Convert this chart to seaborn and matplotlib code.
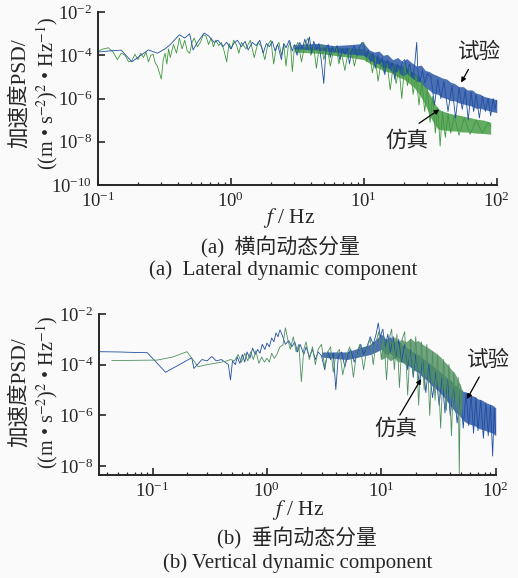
import numpy as np
import matplotlib
matplotlib.use("Agg")
import matplotlib.pyplot as plt
import seaborn as sns

# ---- data (log10 of PSD) ----
# (a) lateral - test (blue)
fa_test = [0.10, 0.12, 0.15, 0.18, 0.21, 0.24, 0.28, 0.32, 0.35, 0.41, 0.45, 0.49, 0.52, 0.56, 0.63,
           0.68, 0.75, 0.80, 0.87, 0.93, 1.00, 1.05, 1.12, 1.20, 1.28, 1.35, 1.45, 1.55, 1.65, 1.75,
           1.85, 1.95, 2.05, 2.15, 2.25, 2.40, 2.50, 2.60, 2.75, 2.90, 3.00, 3.15, 3.30, 3.45, 3.60,
           3.75, 3.90, 4.05, 4.20, 4.40, 4.60, 4.80, 5.00, 5.20, 5.40, 5.60, 5.80, 6.00, 6.30, 6.60,
           6.90, 7.20, 7.50, 7.80, 8.10, 8.50, 8.90, 9.30, 9.70, 10.0, 10.4, 10.8, 11.2, 11.7, 12.2,
           12.7, 13.2, 13.8, 14.4, 15.0, 15.7, 16.4, 17.1, 17.9, 18.7, 19.5, 20.3, 21.2, 22.1, 23.0,
           24.0, 25.0, 25.5, 26.5, 27.6, 28.8, 30.0, 32, 34, 36, 38, 40, 43, 46, 49, 52, 55, 58, 61,
           64, 67, 70, 74, 78, 82, 86, 90, 94, 97, 100]
pa_test = [-3.85, -3.80, -3.76, -4.30, -4.00, -3.75, -3.90, -3.70, -3.50, -3.05, -3.20, -3.00, -3.75,
           -3.40, -2.97, -3.10, -3.40, -3.30, -3.60, -3.40, -3.70, -3.45, -3.30, -3.60, -3.35, -3.75,
           -3.40, -3.55, -3.30, -3.90, -3.45, -3.60, -3.35, -3.80, -3.50, -4.20, -3.45, -3.65, -3.30,
           -3.80, -3.50, -4.00, -3.40, -3.70, -3.25, -3.60, -3.15, -3.90, -3.35, -3.70, -3.45, -4.30,
           -5.30, -3.70, -3.50, -4.10, -3.60, -3.85, -3.55, -4.20, -3.70, -3.95, -3.65, -4.40, -3.80,
           -3.55, -4.00, -3.60, -3.40, -3.50, -4.10, -3.75, -4.30, -3.90, -4.60, -4.00, -4.40, -4.10,
           -4.90, -4.20, -4.60, -4.35, -5.10, -4.40, -4.70, -4.30, -4.20, -4.80, -4.40, -5.00, -4.60,
           -3.40, -4.70, -5.20, -4.70, -5.30, -4.85, -5.00, -6.30, -5.10, -6.00, -5.20, -6.60, -5.40,
           -6.90, -5.50, -6.50, -5.60, -7.00, -5.70, -6.60, -5.80, -6.90, -5.90, -6.60, -6.00, -6.80,
           -6.00, -6.50, -6.10]
# (a) lateral - simulation (green)
fa_sim = [0.10, 0.11, 0.12, 0.13, 0.14, 0.15, 0.16, 0.17, 0.18, 0.19, 0.20, 0.21, 0.22, 0.23, 0.24,
          0.25, 0.26, 0.27, 0.28, 0.29, 0.30, 0.31, 0.32, 0.33, 0.34, 0.35, 0.37, 0.39, 0.41, 0.43,
          0.45, 0.47, 0.49, 0.51, 0.53, 0.56, 0.59, 0.62, 0.65, 0.68, 0.71, 0.74, 0.77, 0.81, 0.85,
          0.89, 0.93, 0.97, 1.01, 1.05, 1.10, 1.15, 1.20, 1.30, 1.40, 1.50, 1.60, 1.70, 1.80, 1.90,
          2.00, 2.10, 2.20, 2.30, 2.40, 2.50, 2.60, 2.70, 2.80, 2.90, 3.00, 3.20, 3.40, 3.60, 3.80,
          4.00, 4.20, 4.40, 4.60, 4.80, 5.00, 5.30, 5.60, 5.90, 6.20, 6.50, 6.80, 7.20, 7.60, 8.00,
          8.50, 9.00, 9.50, 10.0, 10.5, 11.0, 11.6, 12.2, 12.8, 13.5, 14.2, 15.0, 15.8, 16.6, 17.5,
          18.4, 19.3, 20.3, 21.3, 22.4, 23.5, 24.7, 26.0, 27.3, 28.7, 30.0, 31.5, 33.0, 34.5, 36.0,
          37.5, 39.0, 41, 43, 45, 48, 52, 57, 63, 70, 78, 86, 90]
pa_sim = [-3.80, -3.70, -3.65, -3.85, -4.20, -3.90, -4.00, -4.30, -4.25, -3.95, -4.20, -3.90, -4.10,
          -3.85, -4.30, -4.00, -3.95, -4.35, -4.50, -4.80, -5.10, -4.20, -3.90, -4.40, -3.70, -4.10,
          -3.50, -3.90, -3.20, -3.70, -3.30, -3.80, -3.90, -3.40, -3.20, -3.60, -3.40, -3.05, -3.10,
          -3.50, -3.20, -3.60, -3.30, -3.55, -3.40, -3.80, -4.30, -3.45, -3.70, -3.30, -3.50, -3.90,
          -3.40, -3.70, -3.30, -4.10, -3.40, -3.60, -4.20, -3.50, -3.30, -4.40, -3.60, -3.40, -4.00,
          -3.50, -4.50, -3.60, -3.40, -4.75, -3.70, -3.40, -4.30, -3.50, -3.20, -4.00, -3.60, -4.60,
          -3.70, -3.50, -4.20, -3.60, -4.50, -3.80, -3.60, -4.40, -3.90, -4.70, -3.90, -3.70, -4.50,
          -3.80, -3.50, -3.40, -4.30, -3.90, -4.80, -4.10, -5.20, -4.30, -4.80, -4.40, -5.60, -4.50,
          -5.30, -4.60, -6.00, -4.40, -5.40, -4.60, -5.80, -4.90, -6.30, -5.20, -6.60, -5.50, -7.10,
          -5.90, -7.60, -6.40, -8.20, -6.60, -7.80, -6.70, -7.60, -6.80, -7.70, -6.90, -7.65, -7.00,
          -7.60, -7.10, -7.30]
# dense parts of the (a) spectra: upper / lower edge of the band
fa_band_test = [3, 4.5, 6, 8, 10, 11, 12, 13, 14, 15, 16.5, 18, 19.5, 21, 23, 25, 27, 29, 31, 33,
                36, 39, 42, 45, 48, 52, 56, 60, 65, 70, 75, 80, 86, 92, 100]
hia_band_test = [-3.50, -3.45, -3.55, -3.50, -3.45, -3.75, -3.85, -3.80, -4.00, -3.95, -4.20, -4.10,
                 -4.30, -4.15, -4.35, -4.50, -4.45, -4.70, -4.75, -4.85, -4.95, -5.05, -5.10, -5.25,
                 -5.30, -5.45, -5.45, -5.60, -5.60, -5.75, -5.80, -5.90, -5.95, -6.00, -6.05]
loa_band_test = [-3.70, -3.75, -3.85, -3.95, -4.00, -4.20, -4.35, -4.40, -4.60, -4.55, -4.80, -4.75,
                 -4.95, -4.85, -5.05, -5.20, -5.25, -5.50, -5.60, -5.75, -5.80, -5.95, -6.00, -6.10,
                 -6.10, -6.20, -6.25, -6.30, -6.35, -6.45, -6.45, -6.50, -6.55, -6.60, -6.65]
fa_band_sim = [3, 4.5, 6, 8, 10, 12, 14, 16, 18, 20, 22, 24, 26, 28, 30, 32, 34, 36, 38, 40, 45,
               50, 55, 60, 70, 80, 90]
hia_band_sim = [-3.60, -3.60, -3.65, -3.65, -3.70, -4.00, -4.20, -4.30, -4.45, -4.50, -4.70, -4.80,
                -5.00, -5.30, -5.60, -5.90, -6.20, -6.45, -6.55, -6.60, -6.70, -6.75, -6.80, -6.85,
                -6.95, -7.00, -7.10]
loa_band_sim = [-3.85, -3.90, -4.00, -4.10, -4.20, -4.50, -4.70, -4.80, -5.00, -5.10, -5.30, -5.50,
                -5.80, -6.10, -6.50, -6.90, -7.20, -7.40, -7.45, -7.45, -7.50, -7.50, -7.55, -7.55,
                -7.60, -7.62, -7.65]

# (b) vertical - test (blue)
fb_test = [0.034, 0.05, 0.07, 0.09, 0.13, 0.22, 0.23, 0.27, 0.30, 0.33, 0.36, 0.40, 0.43, 0.46, 0.48,
           0.50, 0.53, 0.55, 0.58, 0.61, 0.64, 0.67, 0.71, 0.75, 0.79, 0.83, 0.87, 0.91, 0.96, 1.00,
           1.05, 1.10, 1.15, 1.20, 1.25, 1.30, 1.35, 1.40, 1.45, 1.55, 1.65, 1.75, 1.85, 1.95, 2.10,
           2.20, 2.35, 2.50, 2.65, 2.80, 3.00, 3.20, 3.40, 3.60, 3.80, 4.00, 4.20, 4.50, 4.80, 5.10,
           5.40, 5.80, 6.20, 6.60, 7.00, 7.50, 8.00, 8.50, 9.00, 9.40, 9.80, 10.3, 10.8, 11.4, 12.0,
           12.7, 13.4, 14.2, 15.0, 16, 17, 18, 19, 20, 21.5, 23, 24.5, 26, 28, 30, 32, 34, 36, 38, 40,
           43, 46, 49, 52, 55, 58, 61, 64, 67, 70, 74, 78, 82, 86, 90, 94, 97, 100]
pb_test = [-3.49, -3.50, -3.52, -3.53, -4.30, -3.73, -4.15, -3.80, -3.85, -3.68, -3.85, -3.80, -3.90,
           -4.00, -4.60, -3.85, -4.00, -3.70, -3.95, -3.60, -3.90, -3.50, -3.75, -3.35, -3.60, -3.40,
           -3.55, -3.20, -3.40, -3.15, -3.30, -2.95, -3.10, -2.75, -2.90, -2.63, -2.80, -3.00, -3.20,
           -3.05, -3.30, -3.10, -3.50, -3.20, -3.60, -3.30, -3.70, -3.40, -3.80, -3.50, -3.65, -4.20,
           -3.50, -3.80, -3.55, -4.98, -3.70, -3.50, -4.10, -3.60, -3.40, -3.90, -3.50, -3.20, -3.60,
           -3.30, -2.90, -3.20, -2.80, -2.36, -2.90, -2.60, -3.30, -2.80, -3.50, -2.90, -3.70, -3.00,
           -3.90, -3.20, -4.20, -3.40, -4.50, -3.60, -4.80, -3.80, -5.10, -4.00, -5.30, -4.30, -5.60,
           -4.50, -5.90, -4.60, -6.00, -4.90, -6.30, -5.10, -6.50, -5.10, -6.40, -5.20, -6.70, -5.30,
           -6.60, -5.40, -6.90, -5.50, -6.80, -5.60, -7.60, -5.70, -6.70]
# (b) vertical - simulation (green)
fb_sim = [0.044, 0.07, 0.11, 0.15, 0.20, 0.25, 0.30, 0.35, 0.40, 0.45, 0.48, 0.52, 0.56, 0.60, 0.64,
          0.68, 0.72, 0.76, 0.80, 0.85, 0.90, 0.95, 1.00, 1.05, 1.10, 1.16, 1.22, 1.30, 1.38, 1.45,
          1.52, 1.60, 1.70, 1.80, 1.90, 2.00, 2.10, 2.20, 2.35, 2.50, 2.65, 2.80, 3.00, 3.20, 3.40,
          3.60, 3.80, 4.00, 4.30, 4.60, 5.00, 5.30, 5.70, 6.10, 6.50, 7.00, 7.50, 8.00, 8.50, 9.00,
          9.50, 10.0, 10.5, 11.1, 11.7, 12.3, 13.0, 13.7, 14.4, 15.2, 16.0, 17.0, 18.0, 19.0, 20.0,
          21.2, 22.4, 23.7, 25.0, 26.5, 28.0, 29.5, 31.0, 33.0, 35.0, 37.0, 39.0, 41.0, 43.0, 45.0,
          47.0, 48.0, 49.0, 50.0, 51.0]
pb_sim = [-3.84, -3.83, -3.82, -3.70, -3.49, -4.08, -4.00, -3.95, -3.90, -3.85, -3.80, -3.85, -3.60,
          -3.90, -3.55, -3.85, -3.50, -3.80, -3.45, -3.95, -3.70, -3.90, -3.75, -3.90, -3.55, -3.75,
          -3.60, -3.30, -3.22, -2.55, -3.00, -3.40, -2.90, -3.50, -3.20, -4.67, -3.40, -3.10, -3.80,
          -3.30, -4.00, -3.40, -3.20, -4.10, -3.50, -3.30, -4.30, -3.60, -3.40, -4.40, -3.60, -3.30,
          -4.50, -3.50, -3.20, -4.20, -3.30, -3.00, -4.00, -3.10, -2.70, -3.80, -2.90, -4.60, -3.00,
          -2.60, -4.20, -2.80, -4.90, -3.00, -2.70, -5.20, -3.00, -4.40, -2.90, -5.60, -3.10, -5.00,
          -3.20, -6.00, -3.50, -5.40, -3.60, -6.50, -3.80, -5.80, -4.00, -6.80, -4.30, -5.90, -4.50,
          -8.30, -4.80, -6.00, -5.00]
fb_band_test = [3, 5, 8, 9, 10, 11, 12, 13, 14, 15, 17, 19, 21, 23, 25, 28, 31, 34, 37, 40, 44, 48,
                52, 56, 60, 65, 70, 76, 82, 88, 94, 100]
hib_band_test = [-3.50, -3.50, -3.20, -3.00, -2.80, -3.00, -2.90, -3.10, -3.05, -3.20, -3.35, -3.50,
                 -3.60, -3.75, -3.85, -4.05, -4.20, -4.35, -4.50, -4.60, -4.80, -4.95, -5.05, -5.10,
                 -5.20, -5.25, -5.35, -5.40, -5.50, -5.55, -5.60, -5.70]
lob_band_test = [-3.70, -3.80, -3.60, -3.50, -3.40, -3.60, -3.55, -3.75, -3.70, -3.90, -4.00, -4.20,
                 -4.30, -4.50, -4.60, -4.85, -5.00, -5.20, -5.40, -5.60, -5.85, -6.00, -6.20, -6.30,
                 -6.35, -6.40, -6.50, -6.55, -6.60, -6.65, -6.70, -6.80]
fb_band_sim = [10, 11, 12, 13, 14, 15, 16.5, 18, 19.5, 21, 23, 25, 27, 29, 31, 33, 35, 38, 41, 44,
               47, 50]
hib_band_sim = [-3.20, -3.00, -3.10, -2.90, -3.10, -3.00, -3.10, -2.95, -3.10, -3.05, -3.20, -3.30,
                -3.40, -3.50, -3.60, -3.70, -3.85, -4.00, -4.20, -4.35, -4.60, -4.90]
lob_band_sim = [-3.80, -3.70, -3.85, -3.75, -3.90, -3.85, -4.05, -4.00, -4.20, -4.20, -4.40, -4.55,
                -4.65, -4.75, -4.85, -4.95, -5.05, -5.20, -5.30, -5.40, -5.50, -5.60]

blue = "#1f4ea3"
green_a = "#3d983d"
green_b = "#4f9060"

sns.set_style("ticks", {"xtick.direction": "in", "ytick.direction": "in"})
plt.rcParams['font.family'] = ['Liberation Serif', 'Noto Sans CJK SC']
plt.rcParams['mathtext.fontset'] = 'stix'
plt.rcParams['axes.linewidth'] = 1.4

fig = plt.figure(figsize=(5.18, 5.78), dpi=100, facecolor="#fafafa")
ax1 = fig.add_axes([0.189, 0.680, 0.770, 0.299])
ax2 = fig.add_axes([0.191, 0.178, 0.766, 0.279])


def draw(ax, f_t, p_t, f_s, p_s, bt, bs, gcol, test_first):
    def band(b, col):
        f, hi, lo = b
        ax.fill_between(f, 10.0 ** np.array(hi), 10.0 ** np.array(lo), color=col, alpha=0.8, lw=0)

    def trace(f, p, col):
        sns.lineplot(x=f, y=10.0 ** np.array(p), ax=ax, color=col, lw=0.6,
                     estimator=None, sort=False)
    if test_first:
        band(bt, blue); trace(f_t, p_t, blue)
        band(bs, gcol); trace(f_s, p_s, gcol)
    else:
        band(bs, gcol); trace(f_s, p_s, gcol)
        band(bt, blue); trace(f_t, p_t, blue)


draw(ax1, fa_test, pa_test, fa_sim, pa_sim,
     (fa_band_test, hia_band_test, loa_band_test), (fa_band_sim, hia_band_sim, loa_band_sim),
     green_a, False)
draw(ax2, fb_test, pb_test, fb_sim, pb_sim,
     (fb_band_test, hib_band_test, lob_band_test), (fb_band_sim, hib_band_sim, lob_band_sim),
     green_b, True)

for ax in (ax1, ax2):
    ax.set_xscale("log")
    ax.set_yscale("log")
    ax.set_facecolor("#fafafa")
    ax.tick_params(which="major", length=5, width=1.2, labelsize=13.5, pad=4)
    ax.tick_params(which="minor", length=2.5, width=0.9)
    ax.tick_params(axis="y", which="minor", left=False)
    ax.tick_params(axis="x", which="major", pad=5)
    ax.set_xlabel("")
    ax.set_ylabel("")
    sns.despine(ax=ax)

ax1.set_xlim(0.1, 100)
ax1.set_ylim(1e-10, 1e-2)
ax1.set_yticks([1e-10, 1e-8, 1e-6, 1e-4, 1e-2])
ax2.set_xlim(0.034, 100)
ax2.set_ylim(10 ** -8.35, 1e-2)
ax2.set_yticks([1e-8, 1e-6, 1e-4, 1e-2])

# annotations
arr = dict(arrowstyle="-|>", color="black", lw=0.9, mutation_scale=7)
ax1.annotate("", xy=(52.7, 10 ** -5.37), xytext=(62.7, 10 ** -4.54), arrowprops=arr)
ax1.text(74.5, 10 ** -3.89, "试验", fontsize=15.5, ha="center", va="center")
ax1.annotate("", xy=(38.5, 10 ** -6.43), xytext=(25.0, 10 ** -7.22), arrowprops=arr)
ax1.text(21.0, 10 ** -8.0, "仿真", fontsize=15.5, ha="center", va="center")
ax2.annotate("", xy=(54.6, 10 ** -5.45), xytext=(73.8, 10 ** -4.39), arrowprops=arr)
ax2.text(86.9, 10 ** -3.84, "试验", fontsize=15.5, ha="center", va="center")
ax2.annotate("", xy=(22.9, 10 ** -4.47), xytext=(14.1, 10 ** -6.08), arrowprops=arr)
ax2.text(13.3, 10 ** -6.55, "仿真", fontsize=15.5, ha="center", va="center")

# axis labels and captions
ylab2 = "((m • s$^{-2}$)$^{2}$ • Hz$^{-1}$)"
for yc in (1 - 93 / 578, 1 - 392 / 578):
    fig.text(0.039, yc, "加速度PSD/", rotation=90, fontsize=15.5, ha="center", va="center")
    fig.text(0.091, yc, ylab2, rotation=90, fontsize=14.5, ha="center", va="center")

fig.text(289 / 518, 1 - 218 / 578, "$f$ / Hz", fontsize=15.5, ha="center", va="center")
fig.text(280 / 518, 1 - 247 / 578, "(a)  横向动态分量", fontsize=15, ha="center", va="center")
fig.text(283 / 518, 1 - 270 / 578, "(a)  Lateral dynamic component", fontsize=15, ha="center", va="center")
fig.text(298 / 518, 1 - 510 / 578, "$f$ / Hz", fontsize=15.5, ha="center", va="center")
fig.text(297 / 518, 1 - 538 / 578, "(b)  垂向动态分量", fontsize=15, ha="center", va="center")
fig.text(298 / 518, 1 - 563 / 578, "(b) Vertical dynamic component", fontsize=15, ha="center", va="center")

fig.savefig("out.png", dpi=100, facecolor=fig.get_facecolor())
